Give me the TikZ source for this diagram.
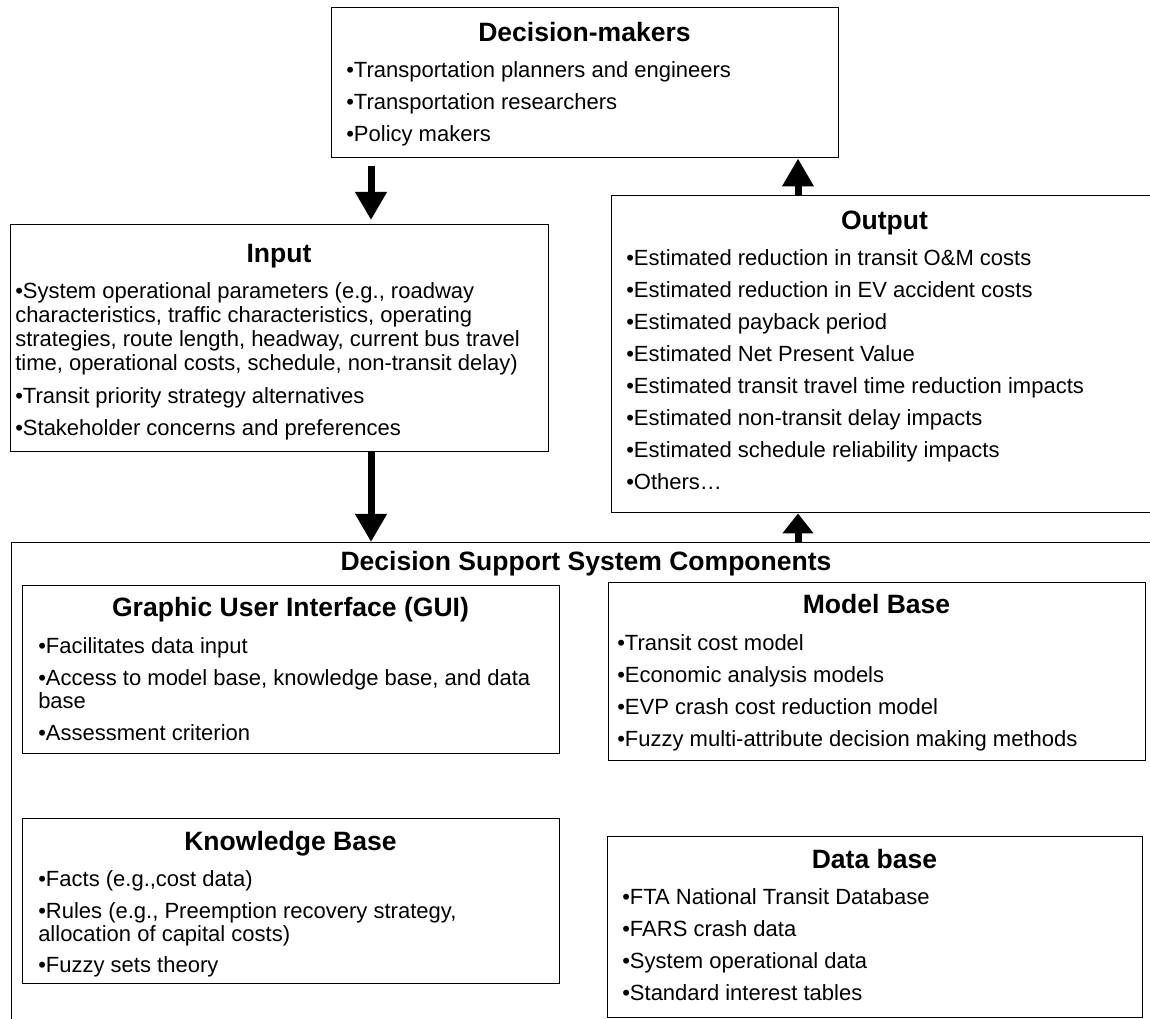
\documentclass[tikz,border=0pt]{standalone}
\usepackage{fontspec}
\setmainfont{Liberation Sans}
\usetikzlibrary{arrows.meta}

\tikzset{
  box/.style={draw, line width=1.1pt, inner sep=0pt, anchor=north west},
  bodytext/.style={font=\fontsize{16.5}{19}\selectfont, inner sep=0pt, anchor=base west},
  titletext/.style={font=\bfseries\fontsize{19.9}{24}\selectfont, inner sep=0pt, anchor=base},
  bigarrow/.style={line width=5.25pt, -{Triangle[width=22.5pt,length=21pt]}},
  shortarrow/.style={line width=5.25pt, -{Triangle[width=22.5pt,length=15pt]}}
}

\begin{document}
\begin{tikzpicture}[x=0.75pt, y=-0.75pt]
\useasboundingbox (0,0) rectangle (1150,1019);
\clip (0,0) rectangle (1150,1019);

% boxes
\node[box, minimum width=507*0.75pt, minimum height=150*0.75pt] (dm) at (331,7) {};
\node[box, minimum width=538*0.75pt, minimum height=227*0.75pt] (in) at (10,224) {};
\node[box, minimum width=560*0.75pt, minimum height=317*0.75pt] (out) at (611,195) {};
\node[box, minimum width=1180*0.75pt, minimum height=500*0.75pt] (dss) at (11,542) {};
\node[box, minimum width=537*0.75pt, minimum height=168*0.75pt] (gui) at (22,585) {};
\node[box, minimum width=537*0.75pt, minimum height=178*0.75pt] (mb) at (608,582) {};
\node[box, minimum width=537*0.75pt, minimum height=165*0.75pt] (kb) at (22,818) {};
\node[box, minimum width=535*0.75pt, minimum height=181*0.75pt] (db) at (607,836) {};

% arrow columns
\coordinate (lcol) at (371,0);
\coordinate (rcol) at (798,0);

% Decision-makers
\node[titletext] (dm-t) at (584.5,42) {Decision-makers};
\node[bodytext] (dm-1) at (346,78) {•Transportation planners and engineers};
\node[bodytext] (dm-2) at (346,110) {•Transportation researchers};
\node[bodytext] (dm-3) at (346,142) {•Policy makers};

% Input
\node[titletext] (in-t) at (279,263) {Input};
\node[bodytext] (in-1) at (15,299) {•System operational parameters (e.g., roadway};
\node[bodytext] (in-2) at (15,323) {characteristics, traffic characteristics, operating};
\node[bodytext] (in-3) at (15,347) {strategies, route length, headway, current bus travel};
\node[bodytext] (in-4) at (15,371) {time, operational costs, schedule, non-transit delay)};
\node[bodytext] (in-5) at (15,404) {•Transit priority strategy alternatives};
\node[bodytext] (in-6) at (15,436) {•Stakeholder concerns and preferences};

% Output
\node[titletext] (out-t) at (884.5,230) {Output};
\node[bodytext] (out-1) at (626,266) {•Estimated reduction in transit O\&M costs};
\node[bodytext] (out-2) at (626,298) {•Estimated reduction in EV accident costs};
\node[bodytext] (out-3) at (626,330) {•Estimated payback period};
\node[bodytext] (out-4) at (626,362) {•Estimated Net Present Value};
\node[bodytext] (out-5) at (626,394) {•Estimated transit travel time reduction impacts};
\node[bodytext] (out-6) at (626,426) {•Estimated non-transit delay impacts};
\node[bodytext] (out-7) at (626,458) {•Estimated schedule reliability impacts};
\node[bodytext] (out-8) at (626,490) {•Others…};

% Decision Support System Components
\node[titletext] (dss-t) at (586,571) {Decision Support System Components};

% GUI
\node[titletext] (gui-t) at (290.5,617) {Graphic User Interface (GUI)};
\node[bodytext] (gui-1) at (38,653) {•Facilitates data input};
\node[bodytext] (gui-2) at (38,685) {•Access to model base, knowledge base, and data};
\node[bodytext] (gui-3) at (38,708) {base};
\node[bodytext] (gui-4) at (38,740) {•Assessment criterion};

% Model Base
\node[titletext] (mb-t) at (876.5,614) {Model Base};
\node[bodytext] (mb-1) at (617,650) {•Transit cost model};
\node[bodytext] (mb-2) at (617,682) {•Economic analysis models};
\node[bodytext] (mb-3) at (617,714) {•EVP crash cost reduction model};
\node[bodytext] (mb-4) at (617,746) {•Fuzzy multi-attribute decision making methods};

% Knowledge Base
\node[titletext] (kb-t) at (290.5,850) {Knowledge Base};
\node[bodytext] (kb-1) at (38,886) {•Facts (e.g.,cost data)};
\node[bodytext] (kb-2) at (38,918) {•Rules (e.g., Preemption recovery strategy,};
\node[bodytext] (kb-3) at (38,941) {allocation of capital costs)};
\node[bodytext] (kb-4) at (38,972) {•Fuzzy sets theory};

% Data base
\node[titletext] (db-t) at (874.5,868) {Data base};
\node[bodytext] (db-1) at (622,904) {•FTA National Transit Database};
\node[bodytext] (db-2) at (622,936) {•FARS crash data};
\node[bodytext] (db-3) at (622,968) {•System operational data};
\node[bodytext] (db-4) at (622,1000) {•Standard interest tables};

% flow arrows
\draw[bigarrow] ([yshift=-6pt]dm.south -| lcol) -- ([yshift=3pt]in.north -| lcol);
\draw[bigarrow] (in.south -| lcol) -- (dss.north -| lcol);
\draw[shortarrow] (dss.north -| rcol) -- (out.south -| rcol);
\draw[bigarrow] (out.north -| rcol) -- (dm.south -| rcol);
\end{tikzpicture}
\end{document}
